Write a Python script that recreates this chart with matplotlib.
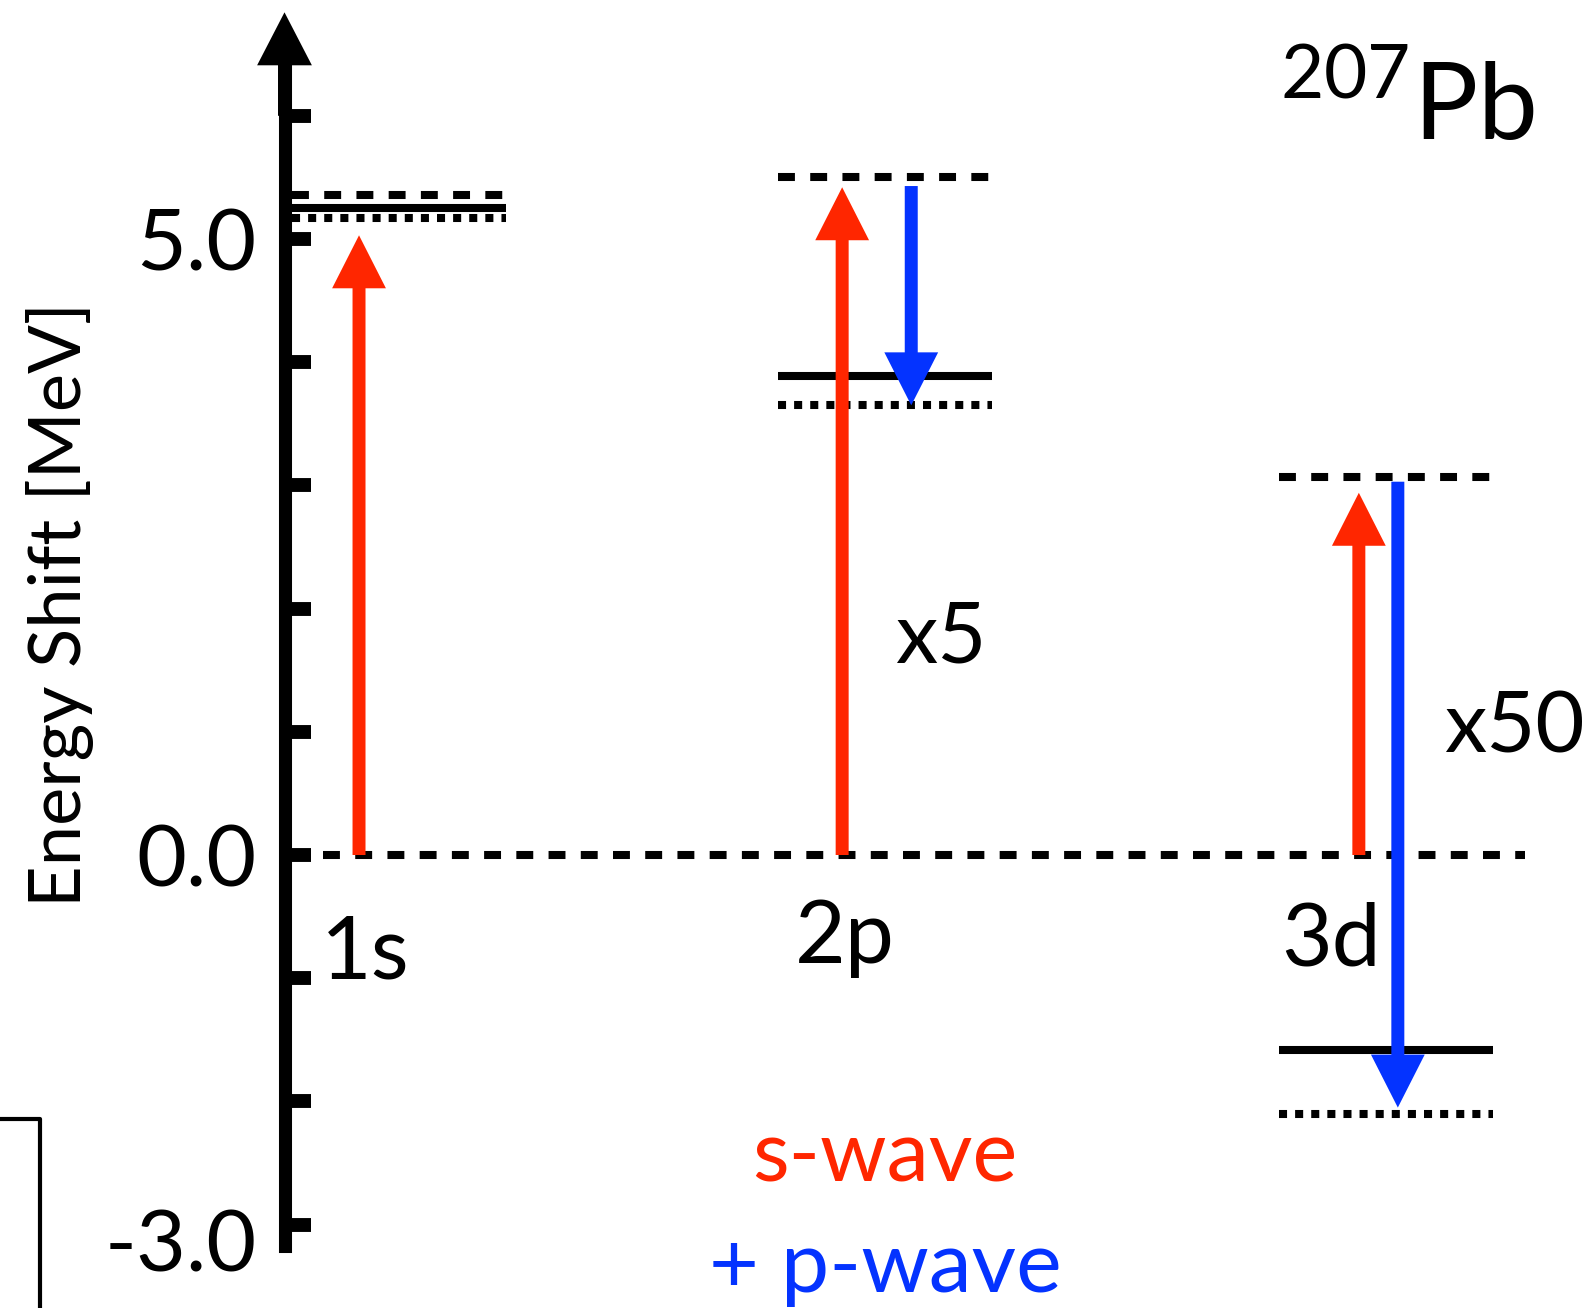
import matplotlib
matplotlib.use('Agg')
import matplotlib.pyplot as plt
from matplotlib.lines import Line2D
from matplotlib.transforms import ScaledTranslation

plt.rcParams['font.family'] = ['Lato', 'DejaVu Sans']
plt.rcParams['mathtext.fontset'] = 'custom'
plt.rcParams['mathtext.rm'] = 'Lato'

# energy shifts in MeV
orbitals = ['1s', '2p', '3d']
scale_labels = ['', 'x5', 'x50']
level_dashed = [5.36, 5.50, 3.07]
level_solid = [5.25, 3.89, -1.58]
level_dotted = [5.17, 3.65, -2.10]
s_wave_tip = [5.03, 5.42, 2.94]
p_wave_start = [None, 5.43, 3.03]
p_wave_tip = [None, 3.65, -2.05]
ytick_vals = [-3, -2, -1, 0, 1, 2, 3, 4, 5, 6]
ytick_labels = ['-3.0', '', '', '0.0', '', '', '', '', '5.0', '']

RED = '#FF2600'
BLUE = '#0433FF'

# layout
col_x = [0.0, 0.985, 2.0]
half_w = 0.217
red_dx = [-0.081, -0.087, -0.055]
blue_dx = [0.0, 0.053, 0.024]
name_pos = [(-0.158, -1.0), (-0.182, -0.877), (-0.212, -0.90)]
scale_pos = [(0, 0), (0.02, 1.56), (0.118, 0.836)]
spine_x = -0.232
shaft_w = 0.0263
head_w = 0.109
head_l = 0.43
dash = (0, (2.1, 1.9))
dot = (0, (1, 1))
lw = 5.8

fig = plt.figure(figsize=(15.94, 13.08), dpi=100)
ax = fig.add_axes([0, 0, 1, 1])
ax.set_xlim(-0.8085, 2.4215)
ax.set_ylim(-3.677, 6.940)
ax.patch.set_alpha(0)

for s in ['top', 'right', 'bottom']:
    ax.spines[s].set_visible(False)
ax.spines['left'].set_position(('data', spine_x))
ax.spines['left'].set_bounds(-3.174, 6.5)
ax.spines['left'].set_linewidth(9.4)
ax.set_xticks([])
ax.set_yticks(ytick_vals)
ax.set_yticklabels(ytick_labels, fontsize=62)
ax.tick_params(axis='y', direction='in', length=19, width=10, pad=20)
lab = ax.get_yticklabels()[0]
lab.set_transform(lab.get_transform() + ScaledTranslation(0, -0.15, fig.dpi_scale_trans))

# axis arrow head
ax.arrow(spine_x, 6.0, 0, 0.84, width=shaft_w, head_width=0.111, head_length=head_l,
         length_includes_head=True, color='black', lw=0)

# zero line
ax.plot([-0.154, 2.282], [0, 0], color='black', lw=lw, linestyle=dash)

for i in range(3):
    x0 = col_x[i] - half_w
    x1 = col_x[i] + half_w
    ax.plot([x0, x1], [level_dashed[i]] * 2, color='black', lw=lw, linestyle=dash)
    ax.plot([x0, x1], [level_solid[i]] * 2, color='black', lw=lw, solid_capstyle='butt')
    ax.plot([x0, x1], [level_dotted[i]] * 2, color='black', lw=lw, linestyle=dot)

    ax.arrow(col_x[i] + red_dx[i], 0, 0, s_wave_tip[i], width=shaft_w, head_width=head_w,
             head_length=head_l, length_includes_head=True, color=RED, lw=0, zorder=3)
    if p_wave_start[i] is not None:
        ax.arrow(col_x[i] + blue_dx[i], p_wave_start[i], 0, p_wave_tip[i] - p_wave_start[i],
                 width=shaft_w, head_width=head_w, head_length=head_l,
                 length_includes_head=True, color=BLUE, lw=0, zorder=3)

    ax.text(col_x[i] + name_pos[i][0], name_pos[i][1], orbitals[i], fontsize=63,
            ha='left', va='baseline')
    if scale_labels[i]:
        ax.text(col_x[i] + scale_pos[i][0], scale_pos[i][1], scale_labels[i], fontsize=61,
                ha='left', va='baseline')

ax.text(1.784, 5.80, r'$^{207}\mathrm{Pb}$', fontsize=77, ha='left', va='baseline')
ax.text(col_x[1], -2.654, 's-wave', fontsize=61, color=RED, ha='center', va='baseline')
ax.text(col_x[1], -3.547, '+ p-wave', fontsize=62, color=BLUE, ha='center', va='baseline')

fig.text(60 / 1594, 1 - 604 / 1308, 'Energy Shift [MeV]', fontsize=52, rotation=90,
         ha='center', va='center')

# leftover frame edge at bottom left
fig.add_artist(Line2D([0, 40 / 1594, 40 / 1594], [1 - 1119 / 1308, 1 - 1119 / 1308, 0],
                      color='black', lw=3))

fig.savefig('out.png', dpi=100)
